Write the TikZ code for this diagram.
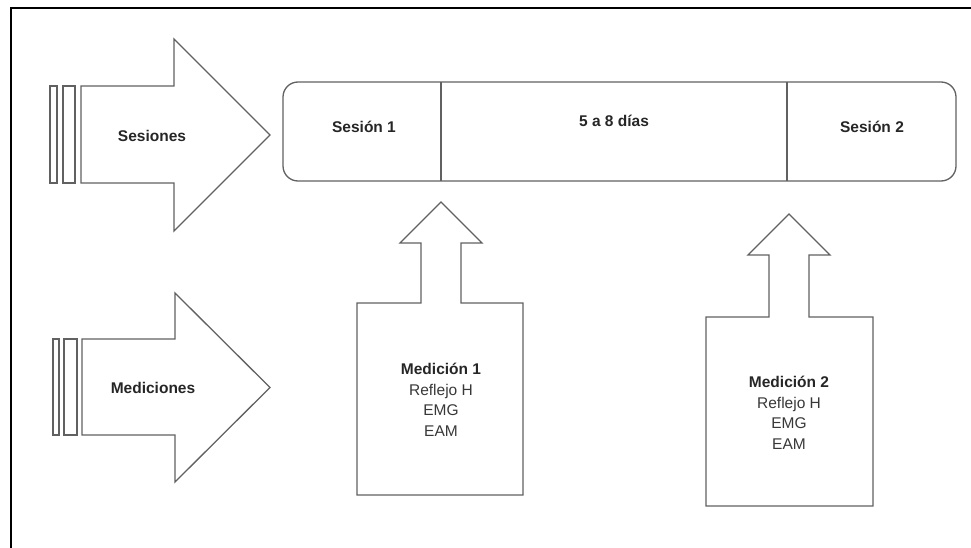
\documentclass[tikz,border=0pt]{standalone}
\usepackage{fontspec}
\setmainfont{Liberation Sans}
\begin{document}
\begin{tikzpicture}[x=1pt,y=-1pt,
  shapeline/.style={draw=black!62, line width=1.3pt, line join=miter},
  lbl/.style={font=\fontsize{15.5}{19}\selectfont\bfseries, text=black!85, inner sep=0pt},
  txt/.style={font=\fontsize{15.5}{20.5}\selectfont, text=black!78, align=center, inner sep=0pt}]
\useasboundingbox (0,0) rectangle (971,548);
% outer frame (cropped)
\draw[line width=1.8pt, black] (11,548) -- (11,8) -- (971,8);

% Sesiones arrow
\draw[shapeline] (81,86) -- (174,86) -- (174,39) -- (270,135) -- (174,231) -- (174,183) -- (81,183) -- cycle;
\draw[shapeline] (50,86) rectangle (57,183);
\draw[shapeline] (63,86) rectangle (75,183);
\node[lbl] (sesiones) at (152,136) {Sesiones};

% Mediciones arrow
\draw[shapeline] (82,339) -- (175,339) -- (175,293) -- (270,387.5) -- (175,482) -- (175,435) -- (82,435) -- cycle;
\draw[shapeline] (53,339) rectangle (59,435);
\draw[shapeline] (64,339) rectangle (77,435);
\node[lbl] (mediciones) at (153,388) {Mediciones};

% timeline
\draw[shapeline, rounded corners=15pt] (283,82) rectangle (956,181);
\draw[shapeline] (441,82) -- (441,181);
\draw[shapeline] (787,82) -- (787,181);
\node[lbl] (s1) at (364,127) {Sesión 1};
\node[lbl] (dias) at (614,121) {5 a 8 días};
\node[lbl] (s2) at (872,127) {Sesión 2};

% Medicion 1 box with up arrow
\draw[shapeline] (357,303) -- (421,303) -- (421,243) -- (400,243) -- (441,202) -- (482,243) -- (461,243) -- (461,303) -- (523,303) -- (523,495) -- (357,495) -- cycle;
\node[txt] (m1) at (441,400) {{\bfseries\color{black!85}Medición 1}\\Reflejo H\\EMG\\EAM};

% Medicion 2 box with up arrow
\draw[shapeline] (706,317) -- (769,317) -- (769,255) -- (748,255) -- (789,214) -- (830,255) -- (809,255) -- (809,317) -- (873,317) -- (873,506) -- (706,506) -- cycle;
\node[txt] (m2) at (789,413) {{\bfseries\color{black!85}Medición 2}\\Reflejo H\\EMG\\EAM};
\end{tikzpicture}
\end{document}
